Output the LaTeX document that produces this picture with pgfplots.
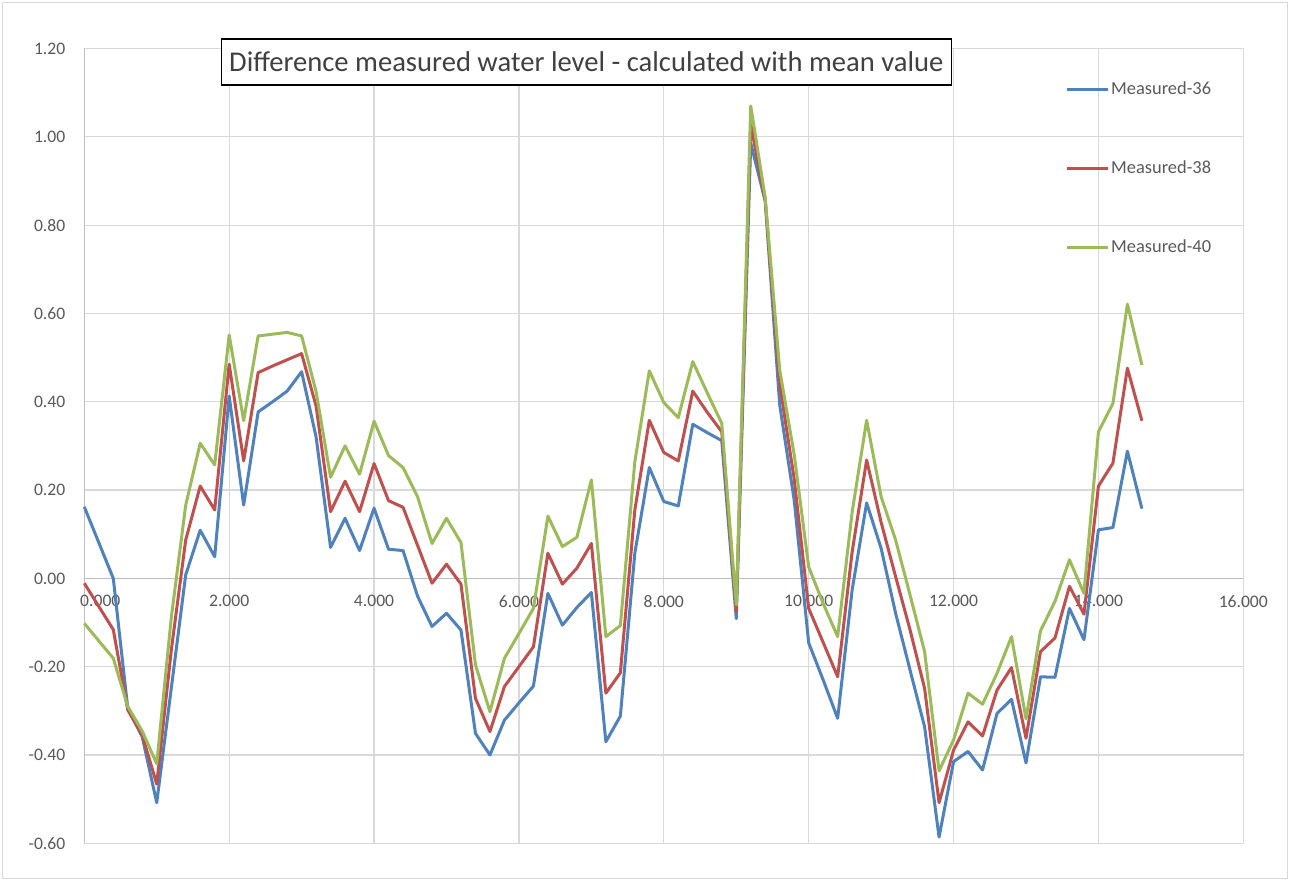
\documentclass[border=0pt]{standalone}
\usepackage{fontspec}
\setmainfont{Carlito}
\usepackage{pgfplots}
\pgfplotsset{compat=1.18}
\usepackage{pgfplotstable}
\definecolor{MBlue}{HTML}{4F81BD}
\definecolor{MRed}{HTML}{C0504D}
\definecolor{MGreen}{HTML}{9BBB59}
\definecolor{GridGray}{HTML}{D9D9D9}
\definecolor{AxisGray}{HTML}{BFBFBF}
\definecolor{LabelGray}{HTML}{595959}
\definecolor{TitleGray}{HTML}{404040}

% x, Measured-36, Measured-38, Measured-40
\pgfplotstableread{
x    m36    m38    m40
0.0  0.162  -0.011 -0.102
0.4  0.000  -0.116 -0.181
0.6  -0.294 -0.298 -0.290
0.8  -0.359 -0.355 -0.346
1.0  -0.508 -0.466 -0.420
1.2  -0.250 -0.164 -0.090
1.4  0.008  0.087  0.166
1.6  0.109  0.209  0.306
1.8  0.049  0.155  0.257
2.0  0.413  0.485  0.551
2.2  0.166  0.266  0.357
2.4  0.377  0.466  0.549
2.6  0.400  0.481  0.553
2.8  0.424  0.495  0.557
3.0  0.468  0.509  0.549
3.2  0.320  0.390  0.423
3.4  0.070  0.151  0.229
3.6  0.136  0.220  0.300
3.8  0.063  0.151  0.236
4.0  0.159  0.260  0.356
4.2  0.066  0.176  0.278
4.4  0.063  0.161  0.251
4.6  -0.040 0.075  0.185
4.8  -0.109 -0.011 0.079
5.0  -0.079 0.032  0.136
5.2  -0.117 -0.013 0.081
5.4  -0.351 -0.272 -0.196
5.6  -0.400 -0.347 -0.302
5.8  -0.321 -0.245 -0.181
6.0  -0.282 -0.200 -0.125
6.2  -0.244 -0.155 -0.068
6.4  -0.034 0.057  0.141
6.6  -0.106 -0.013 0.072
6.8  -0.066 0.023  0.093
7.0  -0.032 0.079  0.223
7.2  -0.370 -0.260 -0.132
7.4  -0.312 -0.214 -0.107
7.6  0.057  0.155  0.264
7.8  0.251  0.358  0.470
8.0  0.174  0.285  0.398
8.2  0.164  0.266  0.364
8.4  0.349  0.424  0.491
8.6  0.330  0.376  0.420
8.8  0.312  0.332  0.351
9.0  -0.091 -0.075 -0.060
9.2  0.986  1.028  1.070
9.4  0.854  0.856  0.862
9.6  0.393  0.440  0.472
9.8  0.177  0.225  0.280
10.0 -0.146 -0.068 0.026
10.2 -0.230 -0.145 -0.057
10.4 -0.317 -0.223 -0.132
10.6 -0.026 0.060  0.150
10.8 0.171  0.268  0.358
11.0 0.068  0.127  0.185
11.2 -0.079 0.004  0.087
11.4 -0.208 -0.117 -0.038
11.6 -0.336 -0.249 -0.166
11.8 -0.586 -0.508 -0.436
12.0 -0.415 -0.389 -0.366
12.2 -0.392 -0.325 -0.260
12.4 -0.434 -0.357 -0.285
12.6 -0.306 -0.253 -0.215
12.8 -0.274 -0.202 -0.132
13.0 -0.418 -0.362 -0.318
13.2 -0.223 -0.166 -0.119
13.4 -0.224 -0.135 -0.052
13.6 -0.068 -0.018 0.042
13.8 -0.139 -0.081 -0.034
14.0 0.110  0.209  0.332
14.2 0.115  0.261  0.396
14.4 0.288  0.476  0.621
14.6 0.158  0.357  0.483
}\levels

\begin{document}
\begin{tikzpicture}
\begin{axis}[
    scale only axis,
    width=579.5pt, height=397.4pt,
    xmin=0, xmax=16, ymin=-0.6, ymax=1.2,
    enlargelimits=false,
    clip=false,
    axis x line=middle, axis y line=left,
    axis line style={draw=AxisGray, line width=0.6pt, -},
    hide obscured x ticks=false, hide obscured y ticks=false,
    xtick={0,2,4,6,8,10,12,14,16},
    xticklabels={\hspace*{16pt}0.000,2.000,4.000,6.000,8.000,10.000,12.000,14.000,16.000},
    ytick={-0.6,-0.4,-0.2,0,0.2,0.4,0.6,0.8,1.0,1.2},
    yticklabels={-0.60,-0.40,-0.20,0.00,0.20,0.40,0.60,0.80,1.00,1.20},
    major tick length=0pt,
    grid=major,
    major grid style={draw=GridGray, line width=0.6pt},
    xticklabel style={font=\fontsize{8.8}{10}\selectfont, text=LabelGray, anchor=north, yshift=-5pt},
    yticklabel style={font=\fontsize{8.8}{10}\selectfont, text=LabelGray, anchor=east, xshift=-6pt},
    every axis plot/.append style={line width=1.5pt, line join=round, no markers},
    legend image code/.code={\draw[#1] (0pt,0pt) -- (20.5pt,0pt);},
    legend style={draw=none, fill=none, inner sep=0pt,
        at={(rel axis cs:0.846,0.9612)}, anchor=north west,
        font=\fontsize{9.2}{10.5}\selectfont, text=LabelGray,
        nodes={inner sep=1pt}, row sep=29.5pt},
    legend cell align=left,
]
\addplot[MBlue] table[x=x, y=m36] {\levels};
\addlegendentry{Measured-36}
\addplot[MRed] table[x=x, y=m38] {\levels};
\addlegendentry{Measured-38}
\addplot[MGreen] table[x=x, y=m40] {\levels};
\addlegendentry{Measured-40}

\node[draw=black, fill=white, line width=0.6pt, text=TitleGray,
      font=\fontsize{14.3}{16}\selectfont, inner xsep=4pt, minimum height=23pt]
      at (rel axis cs:0.4331,0.983) {Difference measured water level - calculated with mean value};

\draw[GridGray, line width=0.6pt] (rel axis cs:-0.0706,-0.0443) rectangle (rel axis cs:1.0381,1.0579);
\path (rel axis cs:-0.07274,-0.04743) rectangle (rel axis cs:1.04029,1.06102);
\end{axis}
\end{tikzpicture}
\end{document}
